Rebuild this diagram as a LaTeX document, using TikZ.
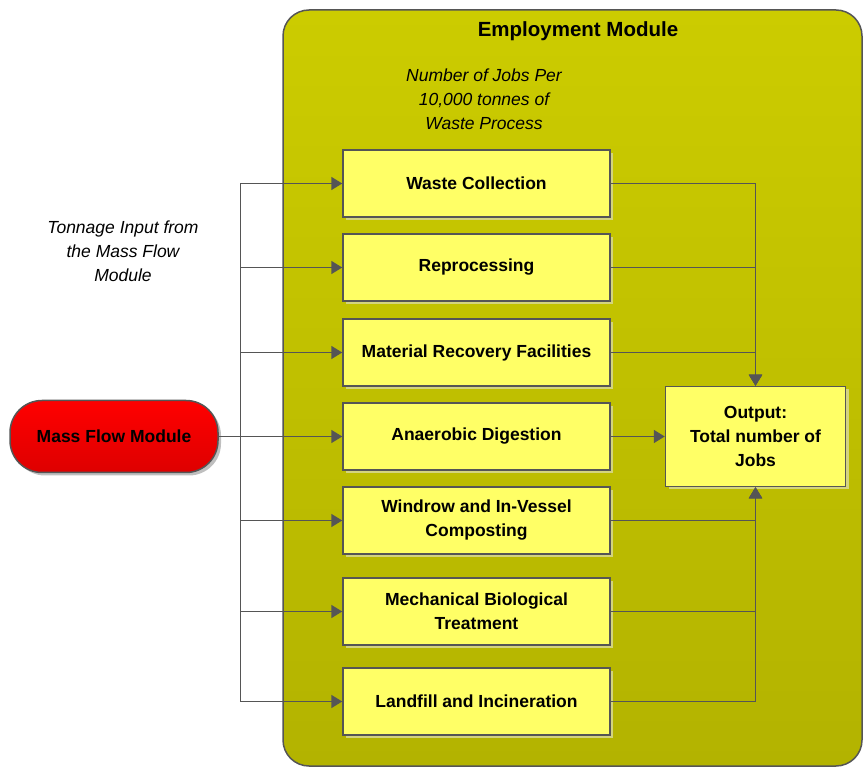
\documentclass[tikz,border=0pt]{standalone}
\usepackage{fontspec}
\setmainfont{Liberation Sans}
\usetikzlibrary{arrows.meta,shadows}

\definecolor{empTop}{HTML}{CCCC00}
\definecolor{empBot}{HTML}{B3B300}
\definecolor{boxFill}{HTML}{FFFF66}
\definecolor{boxShade}{HTML}{D4D47E}
\definecolor{lineGray}{HTML}{555555}

\tikzset{
  proc/.style={draw=lineGray, line width=1.5pt, fill=boxFill, minimum width=267pt,
    minimum height=67pt, inner sep=0pt, align=center,
    font=\bfseries\fontsize{17.5}{24}\selectfont,
    drop shadow={shadow xshift=3pt, shadow yshift=-3pt, fill=boxShade, opacity=1}},
  conn/.style={draw=lineGray, line width=1.7pt, -{Triangle[length=11pt,width=13pt]}},
  wire/.style={draw=lineGray, line width=1.7pt},
  note/.style={align=center, font=\itshape\fontsize{17.5}{24}\selectfont}
}

\begin{document}
\begin{tikzpicture}[x=1pt,y=-1pt]
   \useasboundingbox (0,0) rectangle (863,767);

   % employment module
   \shade[top color=empTop, bottom color=empBot, draw=lineGray, line width=1.5pt,
      rounded corners=26pt] (283,10) rectangle (862,766);
   \node[name=title, font=\bfseries\fontsize{20.5}{24}\selectfont] at (578,31) {Employment Module};
   \node[note, name=perjobs] at (484,99) {Number of Jobs Per\\10,000 tonnes of\\Waste Process};
   \node[note, name=tonnage] at (123,251) {Tonnage Input from\\the Mass Flow\\Module};

   \node[proc, name=wc] at (476.5,183.5) {Waste Collection};
   \node[proc, name=rp] at (476.5,267.5) {Reprocessing};
   \node[proc, name=mrf] at (476.5,352.5) {Material Recovery Facilities};
   \node[proc, name=ad] at (476.5,436.5) {Anaerobic Digestion};
   \node[proc, name=wv] at (476.5,520.5) {Windrow and In-Vessel\\Composting};
   \node[proc, name=mbt] at (476.5,611.5) {Mechanical Biological\\Treatment};
   \node[proc, name=lf] at (476.5,701.5) {Landfill and Incineration};

   \node[proc, name=out, minimum width=180pt, minimum height=100pt] at (755.5,436.5)
      {Output:\\Total number of\\Jobs};

   \node[draw=lineGray, line width=1.5pt, top color=red, bottom color=red!87!black,
      minimum width=208pt, minimum height=72pt, rounded corners=32pt,
      font=\bfseries\fontsize{17.5}{24}\selectfont, name=mass,
      drop shadow={shadow xshift=3pt, shadow yshift=-3pt, fill=black!25, opacity=1}]
      at (114,436.5) {Mass Flow Module};

   \coordinate (trunk) at (240.5,0);

   % inputs
   \draw[wire] (trunk |- wc.west) -- (trunk |- lf.west);
   \draw[conn] (mass.east) -- (ad.west);
   \draw[conn] (trunk |- wc.west) -- (wc.west);
   \draw[conn] (trunk |- rp.west) -- (rp.west);
   \draw[conn] (trunk |- mrf.west) -- (mrf.west);
   \draw[conn] (trunk |- wv.west) -- (wv.west);
   \draw[conn] (trunk |- mbt.west) -- (mbt.west);
   \draw[conn] (trunk |- lf.west) -- (lf.west);

   % outputs
   \draw[conn] (wc.east) -| (out.north);
   \draw[conn] (rp.east) -| (out.north);
   \draw[conn] (mrf.east) -| (out.north);
   \draw[conn] (ad.east) -- (out.west);
   \draw[conn] (wv.east) -| (out.south);
   \draw[conn] (mbt.east) -| (out.south);
   \draw[conn] (lf.east) -| (out.south);
\end{tikzpicture}
\end{document}
